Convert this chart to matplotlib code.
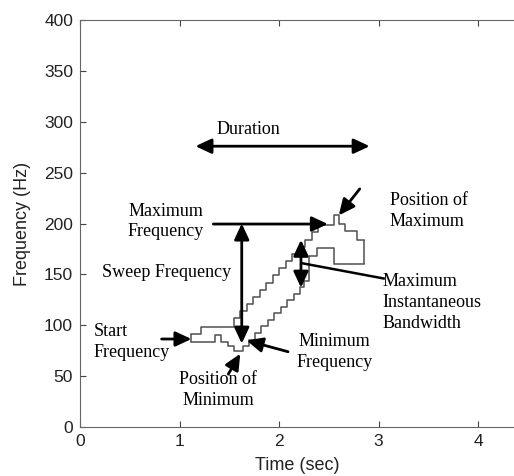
import numpy as np
import matplotlib.pyplot as plt

# upper edge of the contour: step start times and frequencies
upper_t = [1.12, 1.22, 1.55, 1.61, 1.68, 1.74, 1.81, 1.87, 1.94, 2.00, 2.07,
           2.13, 2.20, 2.26, 2.33, 2.39, 2.55, 2.60, 2.66, 2.78]
upper_f = [91, 98, 107, 114, 121, 128, 135, 142, 149, 156, 163,
           170, 177, 184, 192, 199, 208, 200, 193, 184]
# lower edge of the contour
lower_t = [1.12, 1.36, 1.42, 1.49, 1.55, 1.64, 1.70, 1.76, 1.82, 1.89, 1.95,
           2.02, 2.08, 2.15, 2.21, 2.25, 2.30, 2.38, 2.55]
lower_f = [84, 90, 84, 80, 75, 80, 86, 92, 99, 105, 112,
           118, 125, 131, 138, 144, 168, 176, 160]
t_end = 2.85

plt.rcParams['font.family'] = ['Liberation Sans', 'DejaVu Sans']
serif = {'family': 'Liberation Serif', 'size': 13}
ls = 1.3

fig = plt.figure(figsize=(5.14, 4.76), dpi=100)
ax = fig.add_axes([0.1556, 0.1029, 0.8444, 0.855])

c = '#505050'
ax.step(upper_t + [t_end], upper_f + [upper_f[-1]], where='post', color=c, lw=1.1)
ax.step(lower_t + [t_end], lower_f + [lower_f[-1]], where='post', color=c, lw=1.1)
ax.vlines([upper_t[0], t_end], [lower_f[0], lower_f[-1]], [upper_f[0], upper_f[-1]], color=c, lw=1.1)

head = ',head_length=0.6,head_width=0.28'
arr = dict(arrowstyle='-|>' + head, color='black', lw=2, mutation_scale=16, shrinkA=0, shrinkB=0)
darr = dict(arrowstyle='<|-|>' + head, color='black', lw=2, mutation_scale=16, shrinkA=0, shrinkB=0)

# duration
ax.annotate('', xy=(2.91, 276), xytext=(1.16, 276), arrowprops=darr)
ax.text(1.69, 292, 'Duration', ha='center', va='center', fontdict=serif)

# maximum frequency
ax.text(0.86, 202, 'Maximum\nFrequency', ha='center', va='center', fontdict=serif, linespacing=ls)
ax.annotate('', xy=(2.49, 199.5), xytext=(1.34, 199.5), arrowprops=arr)

# sweep frequency
ax.text(0.87, 152, 'Sweep Frequency', ha='center', va='center', fontdict=serif)
ax.annotate('', xy=(1.625, 200), xytext=(1.625, 82), arrowprops=darr)

# start frequency
ax.text(0.14, 84, 'Start\nFrequency', ha='left', va='center', fontdict=serif, linespacing=ls)
ax.annotate('', xy=(1.12, 86.5), xytext=(0.82, 86.5), arrowprops=arr)

# position of minimum
ax.text(1.39, 36, 'Position of\nMinimum', ha='center', va='center', fontdict=serif, linespacing=ls)
ax.annotate('', xy=(1.61, 72), xytext=(1.49, 52), arrowprops=arr)

# minimum frequency
ax.text(2.56, 74, 'Minimum\nFrequency', ha='center', va='center', fontdict=serif, linespacing=ls)
ax.annotate('', xy=(1.675, 85), xytext=(2.09, 74), arrowprops=arr)

# position of maximum
ax.text(3.11, 212, 'Position of\nMaximum', ha='left', va='center', fontdict=serif, linespacing=ls)
ax.annotate('', xy=(2.60, 208), xytext=(2.81, 234), arrowprops=arr)

# maximum instantaneous bandwidth
ax.annotate('', xy=(2.22, 184), xytext=(2.22, 137), arrowprops=darr)
ax.plot([2.23, 3.05], [161, 146], color='black', lw=1.8)
ax.text(3.04, 122, 'Maximum\nInstantaneous\nBandwidth', ha='left', va='center',
        fontdict=serif, linespacing=ls)

ax.set_xlim(0, 4.36)
ax.set_ylim(0, 400)
ax.set_xticks([0, 1, 2, 3, 4])
ax.set_yticks(np.arange(0, 401, 50))
ax.tick_params(direction='in', top=True, length=4, colors='#444444', labelsize=12.5,
               labelcolor='#222222', pad=5)
ax.spines['right'].set_visible(False)
for s in ['left', 'top', 'bottom']:
    ax.spines[s].set_color('#666666')
ax.set_xlabel('Time (sec)', fontsize=13, color='#222222', labelpad=6)
ax.set_ylabel('Frequency (Hz)', fontsize=13, color='#222222', labelpad=9)

fig.savefig('out.png', dpi=100)
